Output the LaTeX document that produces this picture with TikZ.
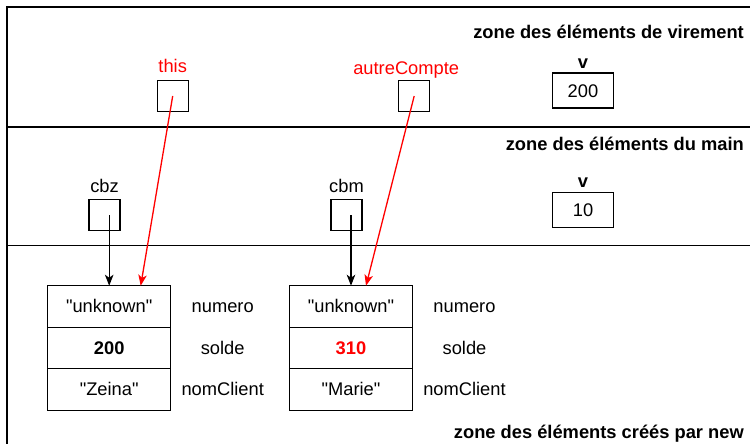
\documentclass[tikz,border=0pt]{standalone}
\usepackage{fontspec}
\setmainfont{Liberation Sans}[Ligatures=TeXOff]
\usetikzlibrary{arrows.meta,calc}

\begin{document}
\begin{tikzpicture}[x=1pt,y=-1pt,
  txt/.style={font=\fontsize{18.3}{22}\selectfont},
  ttl/.style={font=\fontsize{18.3}{22}\selectfont\bfseries, anchor=base east, inner sep=0pt},
  zoneline/.style={line width=1.3pt},
  refbox/.style={draw, line width=1.3pt, minimum width=31pt, minimum height=31pt, inner sep=0pt},
  valbox/.style={txt, draw, line width=1.3pt, minimum width=61pt, minimum height=35pt,
    inner sep=0pt, text height=13.1pt, text depth=0pt},
  fieldrow/.style={txt, draw, line width=1.3pt, minimum width=123pt, minimum height=41.5pt,
    inner sep=0pt, outer sep=0pt, text height=13.1pt, text depth=1pt},
  fieldname/.style={txt, inner sep=0pt, text height=13.1pt, text depth=1pt},
  varname/.style={txt, anchor=base, inner sep=0pt},
  ptr/.style={line width=1.3pt, -{Stealth[length=11pt, width=8.5pt, inset=3pt]}}
]
\useasboundingbox (0,0) rectangle (750,444);
\clip (0,0) rectangle (750,444);

% memory zones
\draw[zoneline] (7,460) -- (7,7) -- (760,7);
\draw[zoneline] (7,127) -- (760,127);
\draw[zoneline] (7,245.5) -- (760,245.5);

\node[ttl] (z1) at (744,38.3) {zone des éléments de virement};
\node[ttl] (z2) at (744,150.7) {zone des éléments du main};
\node[ttl] (z3) at (744,438.5) {zone des éléments créés par new};

% variables of virement
\node[refbox] (this) at (172.7,96) {};
\node[refbox] (autre) at (414.2,96) {};
\node[valbox] (v1) at (583,90.5) {200};
\node[varname, red] (thislbl) at ([yshift=7.5pt]this.north) {this};
\node[varname, red] (autrelbl) at ([xshift=-8pt, yshift=5.5pt]autre.north) {autreCompte};
\node[varname, font=\fontsize{18.3}{22}\selectfont\bfseries] (v1lbl) at ([yshift=3.7pt]v1.north) {v};

% variables of main
\node[refbox] (cbz) at (104.5,215) {};
\node[refbox] (cbm) at (346.5,215) {};
\node[valbox] (v2) at (583,210) {10};
\node[varname] (cbzlbl) at ([yshift=6.2pt]cbz.north) {cbz};
\node[varname] (cbmlbl) at ([yshift=6.2pt]cbm.north) {cbm};
\node[varname, font=\fontsize{18.3}{22}\selectfont\bfseries] (v2lbl) at ([yshift=4pt]v2.north) {v};

% first object
\node[fieldrow] (o1a) at (109.2,306.5) {"unknown"};
\node[fieldrow, font=\fontsize{18.3}{22}\selectfont\bfseries] (o1b) at (109.2,348) {200};
\node[fieldrow] (o1c) at (109.2,389.5) {"Zeina"};
\node[fieldname] (o1na) at ([xshift=113.5pt]o1a.center) {numero};
\node[fieldname] (o1nb) at ([xshift=113.5pt]o1b.center) {solde};
\node[fieldname] (o1nc) at ([xshift=113.5pt]o1c.center) {nomClient};

% second object
\node[fieldrow] (o2a) at (351,306.5) {"unknown"};
\node[fieldrow, red, draw=black, font=\fontsize{18.3}{22}\selectfont\bfseries] (o2b) at (351,348) {310};
\node[fieldrow] (o2c) at (351,389.5) {"Marie"};
\node[fieldname] (o2na) at ([xshift=113.5pt]o2a.center) {numero};
\node[fieldname] (o2nb) at ([xshift=113.5pt]o2b.center) {solde};
\node[fieldname] (o2nc) at ([xshift=113.5pt]o2c.center) {nomClient};

% references
\draw[ptr] (cbz.center -| o1a.north) -- (o1a.north);
\draw[ptr] (cbm.center -| o2a.north) -- (o2a.north);
\draw[ptr, red] (this.center) -- ([xshift=31.5pt]o1a.north);
\draw[ptr, red] (autre.center) -- ([xshift=15pt]o2a.north);
\end{tikzpicture}
\end{document}
